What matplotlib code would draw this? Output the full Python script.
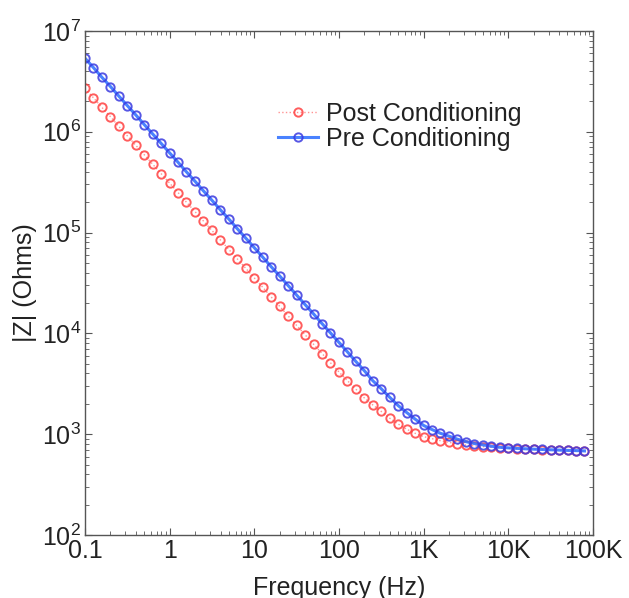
import matplotlib
matplotlib.use("Agg")
import matplotlib.pyplot as plt
from matplotlib.ticker import FixedLocator, LogLocator, NullFormatter

plt.rcParams['font.family'] = ['Liberation Sans', 'DejaVu Sans']
plt.rcParams['mathtext.fontset'] = 'custom'
plt.rcParams['mathtext.rm'] = 'Liberation Sans'
plt.rcParams['mathtext.it'] = 'Liberation Sans:italic'

# Measurement frequencies (Hz), 10 points per decade
frequency_hz = [
    0.1, 0.126, 0.158, 0.2, 0.251, 0.316, 0.398, 0.501, 0.631, 0.794,
    1.0, 1.26, 1.58, 2.0, 2.51, 3.16, 3.98, 5.01, 6.31, 7.94,
    10.0, 12.6, 15.8, 20.0, 25.1, 31.6, 39.8, 50.1, 63.1, 79.4,
    100.0, 126.0, 158.0, 200.0, 251.0, 316.0, 398.0, 501.0, 631.0, 794.0,
    1000.0, 1260.0, 1580.0, 2000.0, 2510.0, 3160.0, 3980.0, 5010.0, 6310.0, 7940.0,
    10000.0, 12600.0, 15800.0, 20000.0, 25100.0, 31600.0, 39800.0, 50100.0, 63100.0, 79400.0,
]

# |Z| before conditioning (Ohms)
z_pre = [
    5.37e6, 4.33e6, 3.48e6, 2.81e6, 2.26e6, 1.82e6, 1.47e6, 1.18e6, 9.51e5, 7.66e5,
    6.17e5, 4.97e5, 4.00e5, 3.22e5, 2.59e5, 2.09e5, 1.68e5, 1.36e5, 1.09e5, 8.79e4,
    7.08e4, 5.70e4, 4.59e4, 3.70e4, 2.98e4, 2.40e4, 1.93e4, 1.56e4, 1.25e4, 1.01e4,
    8130, 6550, 5270, 4250, 3390, 2820, 2320, 1920, 1640, 1410,
    1220, 1110, 1020, 955, 891, 843, 807, 783, 759, 741,
    731, 723, 716, 710, 705, 700, 695, 690, 687, 682,
]

# |Z| after conditioning (Ohms)
z_post = [
    2.69e6, 2.17e6, 1.75e6, 1.41e6, 1.13e6, 9.12e5, 7.35e5, 5.92e5, 4.76e5, 3.84e5,
    3.09e5, 2.49e5, 2.00e5, 1.61e5, 1.30e5, 1.05e5, 8.43e4, 6.79e4, 5.47e4, 4.41e4,
    3.55e4, 2.86e4, 2.30e4, 1.85e4, 1.49e4, 1.20e4, 9680, 7800, 6310, 5110,
    4140, 3390, 2800, 2280, 1950, 1680, 1440, 1260, 1120, 1020,
    946, 902, 861, 828, 800, 780, 764, 752, 741, 733,
    724, 718, 711, 706, 701, 697, 692, 689, 685, 681,
]

x_tick_values = [0.1, 1, 10, 100, 1000, 10000, 100000]
x_tick_labels = ['0.1', '1', '10', '100', '1K', '10K', '100K']

fig = plt.figure(figsize=(6.29, 5.98), dpi=100)
ax = fig.add_axes([0.1351, 0.1054, 0.8076, 0.8428])

ax.loglog(frequency_hz, z_post, linestyle=':', color='#ff8080', linewidth=1.0,
          marker='o', markersize=6, markerfacecolor='none',
          markeredgecolor='#ff4040', markeredgewidth=1.4, alpha=0.85,
          label='Post Conditioning')
ax.loglog(frequency_hz, z_pre, linestyle='-', color='#2a6cff', linewidth=2.2,
          marker='o', markersize=6, markerfacecolor='none',
          markeredgecolor='#3a3ae0', markeredgewidth=1.4, alpha=0.85,
          label='Pre Conditioning')

ax.set_xlim(0.1, 1e5)
ax.set_ylim(1e2, 1e7)

ax.xaxis.set_major_locator(FixedLocator(x_tick_values))
ax.set_xticklabels(x_tick_labels)
ax.xaxis.set_minor_locator(LogLocator(base=10, subs=range(2, 10), numticks=20))
ax.xaxis.set_minor_formatter(NullFormatter())
ax.yaxis.set_major_locator(LogLocator(base=10, numticks=10))
ax.yaxis.set_minor_locator(LogLocator(base=10, subs=range(2, 10), numticks=20))
ax.yaxis.set_minor_formatter(NullFormatter())

for side in ax.spines.values():
    side.set_color('#555555')
    side.set_linewidth(1.0)
ax.tick_params(which='both', direction='in', top=True, right=True,
               colors='#555555', labelcolor='#222222', labelsize=18)
ax.tick_params(which='major', length=5, width=0.8)
ax.tick_params(which='minor', length=3, width=0.6)
ax.tick_params(axis='x', pad=3)
ax.tick_params(axis='y', pad=3)

ax.set_xlabel('Frequency (Hz)', fontsize=18, color='#222222', labelpad=9)
ax.set_ylabel('|Z| (Ohms)', fontsize=18, color='#222222', labelpad=3)

leg = ax.legend(loc='upper left', bbox_to_anchor=(0.38, 0.86), frameon=False,
                fontsize=18, handlelength=1.6, handletextpad=0.3,
                labelspacing=0.05, borderaxespad=0, borderpad=0)
for t in leg.get_texts():
    t.set_color('#222222')

fig.savefig('out.png', dpi=100)
